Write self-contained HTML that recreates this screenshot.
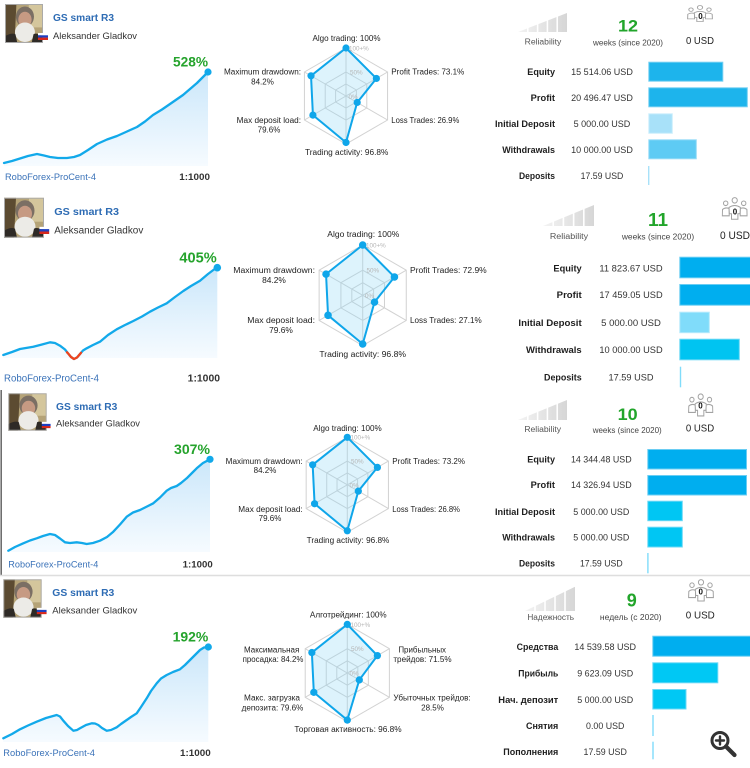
<!DOCTYPE html>
<html><head><meta charset="utf-8">
<style>
html,body{margin:0;padding:0;background:#fff;}
svg{display:block;}
text{font-family:"Liberation Sans","DejaVu Sans",sans-serif;}
.ttl{font-size:10px;font-weight:bold;fill:#2e6cb4}
.nm{font-size:9.4px;fill:#333}
.pct{font-size:14px;font-weight:bold;fill:#25a32c}
.ft{font-size:9.3px;fill:#3a72b8}
.lev{font-size:9.5px;font-weight:bold;fill:#333}
.rl{font-size:8px;fill:#222}
.gl{font-size:6.3px;fill:#b5b5b5}
.rel{font-size:8px;fill:#555}
.wk{font-size:17px;font-weight:bold;fill:#22a52b}
.wks{font-size:8px;fill:#444}
.usd{font-size:10.5px;fill:#222}
.zero{font-size:8px;font-weight:bold;fill:#111}
.lb{font-size:9px;font-weight:bold;fill:#1e1e1e}
.vl{font-size:9px;fill:#333}
.grid{fill:none;stroke:#d2d2d2;stroke-width:1}
.poly{fill:#8fd6f5;fill-opacity:.3;stroke:#0fa6ea;stroke-width:2;stroke-linejoin:round}
.curve{fill:none;stroke:#12a9ea;stroke-width:2.3;stroke-linejoin:round;stroke-linecap:round}
</style></head>
<body>
<svg width="750" height="768" viewBox="0 0 750 768" xmlns="http://www.w3.org/2000/svg">
<defs>
  <symbol id="av" viewBox="0 0 40 40" preserveAspectRatio="none">
    <rect width="40" height="40" fill="#b5a377"/>
    <rect x="25" y="0" width="15" height="24" fill="#d4c69c"/>
    <path d="M0 0 H12 L10 40 H0Z" fill="#5c4b31"/>
    <ellipse cx="21" cy="13" rx="9.5" ry="10.5" fill="#7b6f64"/>
    <ellipse cx="21" cy="16" rx="7" ry="8" fill="#c69a83"/>
    <ellipse cx="21" cy="29" rx="10.5" ry="10" fill="#ecebe7"/>
    <path d="M0 33 Q7 29 11 31 L13 40 H0Z" fill="#2e2a26"/>
    <path d="M40 33 Q33 29 30 31 L28 40 H40Z" fill="#2e2a26"/>
    <rect x="0.5" y="0.5" width="39" height="39" fill="none" stroke="#a9a9a9" stroke-width="1"/>
  </symbol>
  <symbol id="flag" viewBox="0 0 10 7" preserveAspectRatio="none">
    <rect width="10" height="2.4" fill="#ffffff"/>
    <rect y="2.3" width="10" height="2.4" fill="#1d3fc0"/>
    <rect y="4.6" width="10" height="2.4" fill="#d8281c"/>
  </symbol>
  <linearGradient id="relg" x1="0" y1="0" x2="1" y2="0">
    <stop offset="0" stop-color="#f3f3f3"/><stop offset="1" stop-color="#d6d6d6"/>
  </linearGradient>
  <symbol id="rel" viewBox="0 0 50 20" preserveAspectRatio="none">
    <polygon points="0,20 50,0 50,20" fill="url(#relg)"/>
    <g stroke="#fff" stroke-width="1.6">
      <line x1="10" y1="0" x2="10" y2="20"/><line x1="20" y1="0" x2="20" y2="20"/>
      <line x1="30" y1="0" x2="30" y2="20"/><line x1="40" y1="0" x2="40" y2="20"/>
    </g>
  </symbol>
  <symbol id="ppl" viewBox="0 0 26 22" preserveAspectRatio="none">
    <g fill="#fff" stroke="#a3a3a3" stroke-width="1">
      <circle cx="4" cy="6" r="2.2"/><circle cx="22" cy="6" r="2.2"/>
      <path d="M0.6 18 L0.8 12 Q3.5 9.5 7.5 11 L7.5 18Z"/>
      <path d="M25.4 18 L25.2 12 Q22.5 9.5 18.5 11 L18.5 18Z"/>
      <circle cx="13" cy="3.2" r="2.6"/>
      <path d="M7.3 10 Q13 6.3 18.7 10 L18.3 16 L16.2 16 L16.2 21.3 L9.8 21.3 L9.8 16 L7.7 16Z"/>
    </g>
  </symbol>
  <linearGradient id="fillg" x1="0" y1="0" x2="0" y2="1">
    <stop offset="0" stop-color="#cbe7fa"/><stop offset="1" stop-color="#f6fbff"/>
  </linearGradient>
  <g id="hexgrid">
    <polygon class="grid" vector-effect="non-scaling-stroke" points="0,-100 86.6,-50 86.6,50 0,100 -86.6,50 -86.6,-50"/>
    <polygon class="grid" vector-effect="non-scaling-stroke" points="0,-50 43.3,-25 43.3,25 0,50 -43.3,25 -43.3,-25"/>
    <polygon class="grid" vector-effect="non-scaling-stroke" points="0,-25 21.65,-12.5 21.65,12.5 0,25 -21.65,12.5 -21.65,-12.5"/>
    <g class="grid" vector-effect="non-scaling-stroke">
      <line vector-effect="non-scaling-stroke" x1="0" y1="-100" x2="0" y2="100"/>
      <line vector-effect="non-scaling-stroke" x1="86.6" y1="-50" x2="-86.6" y2="50"/>
      <line vector-effect="non-scaling-stroke" x1="86.6" y1="50" x2="-86.6" y2="-50"/>
    </g>
  </g>
</defs>

<!-- ============ PANEL 1 ============ -->
<use href="#av" x="5" y="4" width="38" height="39"/>
<use href="#flag" x="38" y="33" width="10" height="7"/>
<text class="ttl" x="53" y="21" textLength="61" lengthAdjust="spacingAndGlyphs">GS smart R3</text>
<text class="nm" x="53" y="39" textLength="84" lengthAdjust="spacingAndGlyphs">Aleksander Gladkov</text>
<polygon fill="url(#fillg)" points="4,163 12,161 20,158.5 28,156 37,154 44,155.5 50,157 58,158 67,158 74,157 80,155 88,150 97,144 107,139.5 117,136 127,131.5 137,127 145,121.5 153,115 162,109.5 170,104 183,95 190,89 197,83 203,77 208,72 208,166 4,166"/>
<polyline class="curve" points="4,163 12,161 20,158.5 28,156 37,154 44,155.5 50,157 58,158 67,158 74,157 80,155 88,150 97,144 107,139.5 117,136 127,131.5 137,127 145,121.5 153,115 162,109.5 170,104 183,95 190,89 197,83 203,77 208,72"/>
<circle cx="208" cy="72" r="3.6" fill="#12a9ea"/>
<text class="pct" x="208" y="66.7" text-anchor="end" textLength="35" lengthAdjust="spacingAndGlyphs">528%</text>
<text class="ft" x="5" y="180" textLength="91" lengthAdjust="spacingAndGlyphs">RoboForex-ProCent-4</text>
<text class="lev" x="210" y="180" text-anchor="end" textLength="30.7" lengthAdjust="spacingAndGlyphs">1:1000</text>

<g transform="translate(346,96) scale(0.48)">
  <use href="#hexgrid"/>
  <polygon class="poly" vector-effect="non-scaling-stroke" points="0,-100 63.3,-36.55 23.3,13.45 0,96.8 -68.9,39.8 -72.9,-42.1"/>
  <g fill="#0fa6ea"><circle cx="0" cy="-100" r="7.5"/><circle cx="63.3" cy="-36.55" r="7.5"/><circle cx="23.3" cy="13.45" r="7.5"/><circle cx="0" cy="96.8" r="7.5"/><circle cx="-68.9" cy="39.8" r="7.5"/><circle cx="-72.9" cy="-42.1" r="7.5"/></g>
</g>
<text class="gl" x="349" y="50.5">100+%</text>
<text class="gl" x="350" y="74.3">50%</text>
<text class="gl" x="348.5" y="98.8">0%</text>
<text class="rl" x="346.5" y="41" text-anchor="middle" textLength="68" lengthAdjust="spacingAndGlyphs">Algo trading: 100%</text>
<text class="rl" x="391.3" y="74.5" textLength="73" lengthAdjust="spacingAndGlyphs">Profit Trades: 73.1%</text>
<text class="rl" x="391.3" y="123" textLength="68" lengthAdjust="spacingAndGlyphs">Loss Trades: 26.9%</text>
<text class="rl" x="346.7" y="155" text-anchor="middle" textLength="83.3" lengthAdjust="spacingAndGlyphs">Trading activity: 96.8%</text>
<text class="rl" x="301" y="74.5" text-anchor="end" textLength="77" lengthAdjust="spacingAndGlyphs">Maximum drawdown:</text>
<text class="rl" x="262.5" y="84.5" text-anchor="middle">84.2%</text>
<text class="rl" x="301" y="123" text-anchor="end" textLength="64.3" lengthAdjust="spacingAndGlyphs">Max deposit load:</text>
<text class="rl" x="269" y="132.5" text-anchor="middle">79.6%</text>

<use href="#rel" x="518" y="13" width="49" height="19"/>
<text class="rel" x="543" y="44.5" text-anchor="middle" textLength="36.7" lengthAdjust="spacingAndGlyphs">Reliability</text>
<text class="wk" x="628" y="31.7" text-anchor="middle" textLength="20" lengthAdjust="spacingAndGlyphs">12</text>
<text class="wks" x="628" y="45.5" text-anchor="middle" textLength="70" lengthAdjust="spacingAndGlyphs">weeks (since 2020)</text>
<use href="#ppl" x="687" y="5" width="26" height="17"/>
<text class="zero" x="700.5" y="19" text-anchor="middle">0</text>
<text class="usd" x="700" y="44" text-anchor="middle" textLength="28" lengthAdjust="spacingAndGlyphs">0 USD</text>

<text class="lb" x="555" y="74.9" text-anchor="end" textLength="27.7" lengthAdjust="spacingAndGlyphs">Equity</text>
<text class="lb" x="555" y="100.9" text-anchor="end" textLength="24.3" lengthAdjust="spacingAndGlyphs">Profit</text>
<text class="lb" x="555" y="127.2" text-anchor="end" textLength="60" lengthAdjust="spacingAndGlyphs">Initial Deposit</text>
<text class="lb" x="555" y="153.2" text-anchor="end" textLength="52.7" lengthAdjust="spacingAndGlyphs">Withdrawals</text>
<text class="lb" x="555" y="178.9" text-anchor="end" textLength="36" lengthAdjust="spacingAndGlyphs">Deposits</text>
<text class="vl" x="602" y="74.9" text-anchor="middle" textLength="61.7" lengthAdjust="spacingAndGlyphs">15 514.06 USD</text>
<text class="vl" x="602" y="100.9" text-anchor="middle" textLength="61.7" lengthAdjust="spacingAndGlyphs">20 496.47 USD</text>
<text class="vl" x="602" y="127.2" text-anchor="middle" textLength="56.7" lengthAdjust="spacingAndGlyphs">5 000.00 USD</text>
<text class="vl" x="602" y="153.2" text-anchor="middle" textLength="61.7" lengthAdjust="spacingAndGlyphs">10 000.00 USD</text>
<text class="vl" x="602" y="178.9" text-anchor="middle" textLength="42.7" lengthAdjust="spacingAndGlyphs">17.59 USD</text>
<rect x="648.8" y="62.2" width="74" height="19" fill="#1db4ec" stroke="#74cff2" stroke-width="1"/>
<rect x="648.8" y="87.8" width="98.5" height="19" fill="#1db4ec" stroke="#74cff2" stroke-width="1"/>
<rect x="648.8" y="113.8" width="23.5" height="19.5" fill="#a8e1f9" stroke="#cdeefc" stroke-width="1"/>
<rect x="648.8" y="139.8" width="47.5" height="19" fill="#5ecbf4" stroke="#98dcf7" stroke-width="1"/>
<rect x="648" y="166" width="1.4" height="19" fill="#a8e1f9"/>

<!-- ============ PANEL 2 ============ -->
<use href="#av" x="4" y="197.7" width="40" height="40"/>
<use href="#flag" x="39.3" y="226.7" width="10" height="7.3"/>
<text class="ttl" x="54.3" y="215" textLength="64.7" lengthAdjust="spacingAndGlyphs" style="font-size:10.5px">GS smart R3</text>
<text class="nm" x="54.3" y="233.3" textLength="89" lengthAdjust="spacingAndGlyphs" style="font-size:10px">Aleksander Gladkov</text>
<polygon fill="url(#fillg)" points="3.3,355 12,352 20,349 33.3,346.7 42,344.5 50,342.3 55,343 60,345.7 65,349.5 68,353.3 71,357 74,358 77,357 80,354 83,350.5 86.7,348.3 93,345 100,341.7 108,335 116.7,329.3 125,325 133.3,321 142,316.5 150,311.7 158,307.5 166.7,303.3 175,297 183.3,291 191,286 200,280.7 208,274 214,269.5 217.3,267.7 217.3,358 3.3,358"/>
<polyline class="curve" points="3.3,355 12,352 20,349 33.3,346.7 42,344.5 50,342.3 55,343 60,345.7 65,349.5 68,353.3 71,357 74,359 77,357.5 80,354 83,350.5 86.7,348.3 93,345 100,341.7 108,335 116.7,329.3 125,325 133.3,321 142,316.5 150,311.7 158,307.5 166.7,303.3 175,297 183.3,291 191,286 200,280.7 208,274 214,269.5 217.3,267.7"/>
<polyline fill="none" stroke="#f0431c" stroke-width="2.3" stroke-linejoin="round" stroke-linecap="round" points="67,352.3 68,353.3 71,357 74,359 77,357.5 80,354 81,352.8"/>
<circle cx="217.3" cy="267.7" r="3.8" fill="#12a9ea"/>
<text class="pct" x="216.7" y="262.3" text-anchor="end" textLength="37.3" lengthAdjust="spacingAndGlyphs" style="font-size:15px">405%</text>
<text class="ft" x="4" y="381.7" textLength="95" lengthAdjust="spacingAndGlyphs" style="font-size:9.8px">RoboForex-ProCent-4</text>
<text class="lev" x="220" y="381.7" text-anchor="end" textLength="32.3" lengthAdjust="spacingAndGlyphs" style="font-size:10px">1:1000</text>

<g transform="translate(362.7,295.3) scale(0.503)">
  <use href="#hexgrid"/>
  <polygon class="poly" vector-effect="non-scaling-stroke" points="0,-100 63.1,-36.45 23.5,13.55 0,96.8 -68.9,39.8 -72.9,-42.1"/>
  <g fill="#0fa6ea"><circle cx="0" cy="-100" r="7.5"/><circle cx="63.1" cy="-36.45" r="7.5"/><circle cx="23.5" cy="13.55" r="7.5"/><circle cx="0" cy="96.8" r="7.5"/><circle cx="-68.9" cy="39.8" r="7.5"/><circle cx="-72.9" cy="-42.1" r="7.5"/></g>
</g>
<text class="gl" x="366" y="247.5">100+%</text>
<text class="gl" x="366.5" y="272.5">50%</text>
<text class="gl" x="365" y="297.8">0%</text>
<text class="rl" x="363.3" y="237" text-anchor="middle" textLength="72" lengthAdjust="spacingAndGlyphs">Algo trading: 100%</text>
<text class="rl" x="410" y="273" textLength="76.7" lengthAdjust="spacingAndGlyphs">Profit Trades: 72.9%</text>
<text class="rl" x="410" y="323" textLength="71.7" lengthAdjust="spacingAndGlyphs">Loss Trades: 27.1%</text>
<text class="rl" x="362.7" y="357" text-anchor="middle" textLength="86.7" lengthAdjust="spacingAndGlyphs">Trading activity: 96.8%</text>
<text class="rl" x="315" y="273" text-anchor="end" textLength="81.7" lengthAdjust="spacingAndGlyphs">Maximum drawdown:</text>
<text class="rl" x="274" y="283" text-anchor="middle" style="font-size:8.4px">84.2%</text>
<text class="rl" x="315" y="323" text-anchor="end" textLength="67.7" lengthAdjust="spacingAndGlyphs">Max deposit load:</text>
<text class="rl" x="281" y="333" text-anchor="middle" style="font-size:8.4px">79.6%</text>

<use href="#rel" x="543" y="205" width="51" height="21"/>
<text class="rel" x="569" y="239" text-anchor="middle" textLength="38.3" lengthAdjust="spacingAndGlyphs">Reliability</text>
<text class="wk" x="658" y="226" text-anchor="middle" textLength="20" lengthAdjust="spacingAndGlyphs" style="font-size:18px">11</text>
<text class="wks" x="658" y="239.5" text-anchor="middle" textLength="72.3" lengthAdjust="spacingAndGlyphs">weeks (since 2020)</text>
<use href="#ppl" x="721.7" y="197" width="26" height="23"/>
<text class="zero" x="735" y="214.5" text-anchor="middle">0</text>
<text class="usd" x="720" y="239" textLength="30" lengthAdjust="spacingAndGlyphs" style="font-size:11px">0 USD</text>

<text class="lb" x="581.7" y="271.5" text-anchor="end" textLength="28.3" lengthAdjust="spacingAndGlyphs">Equity</text>
<text class="lb" x="581.7" y="298.2" text-anchor="end" textLength="25" lengthAdjust="spacingAndGlyphs">Profit</text>
<text class="lb" x="581.7" y="325.9" text-anchor="end" textLength="63.3" lengthAdjust="spacingAndGlyphs">Initial Deposit</text>
<text class="lb" x="581.7" y="353.2" text-anchor="end" textLength="55.7" lengthAdjust="spacingAndGlyphs">Withdrawals</text>
<text class="lb" x="581.7" y="380.5" text-anchor="end" textLength="37.7" lengthAdjust="spacingAndGlyphs">Deposits</text>
<text class="vl" x="631" y="271.5" text-anchor="middle" textLength="63.3" lengthAdjust="spacingAndGlyphs">11 823.67 USD</text>
<text class="vl" x="631" y="298.2" text-anchor="middle" textLength="63.3" lengthAdjust="spacingAndGlyphs">17 459.05 USD</text>
<text class="vl" x="631" y="325.9" text-anchor="middle" textLength="59.7" lengthAdjust="spacingAndGlyphs">5 000.00 USD</text>
<text class="vl" x="631" y="353.2" text-anchor="middle" textLength="63.3" lengthAdjust="spacingAndGlyphs">10 000.00 USD</text>
<text class="vl" x="631" y="380.5" text-anchor="middle" textLength="45" lengthAdjust="spacingAndGlyphs">17.59 USD</text>
<rect x="679.8" y="257.2" width="72" height="20.6" fill="#00aeef" stroke="#6acdf3" stroke-width="1"/>
<rect x="679.8" y="284.5" width="72" height="20.7" fill="#00aeef" stroke="#6acdf3" stroke-width="1"/>
<rect x="679.8" y="312.2" width="29.5" height="20.5" fill="#80dcfa" stroke="#b5eafc" stroke-width="1"/>
<rect x="679.8" y="339.2" width="59.5" height="20.6" fill="#00c4f1" stroke="#6ad8f6" stroke-width="1"/>
<rect x="679.8" y="366.7" width="1.4" height="20.6" fill="#80dcfa"/>

<!-- ============ PANEL 3 ============ -->
<line x1="1.2" y1="390" x2="1.2" y2="575" stroke="#666" stroke-width="1.5"/>
<line x1="0" y1="575.5" x2="750" y2="575.5" stroke="#dedede" stroke-width="1.5"/>
<use href="#av" x="8.3" y="393.3" width="38.4" height="37.4"/>
<use href="#flag" x="41.7" y="421.7" width="9" height="6.6"/>
<text class="ttl" x="56" y="410" textLength="61.3" lengthAdjust="spacingAndGlyphs">GS smart R3</text>
<text class="nm" x="56" y="426.7" textLength="84" lengthAdjust="spacingAndGlyphs">Aleksander Gladkov</text>
<polygon fill="url(#fillg)" points="8.3,550.7 15,547 23.3,543.3 30,540.5 36.7,538.3 43,536 50,534 55,535 60,538.5 65,542.3 70,543 76.7,542.3 82,543 86.7,544 93,543 100,540.7 107,537 113.3,531.7 120,524.5 126.7,516.7 133,512.5 140,510 147,506.5 153.3,503.3 160,497.5 166.7,490.7 171,488 176.7,486 181,483 186.7,478.3 192,473 196.7,468.3 203,463 210,459.3 210,552 8.3,552"/>
<polyline class="curve" points="8.3,550.7 15,547 23.3,543.3 30,540.5 36.7,538.3 43,536 50,534 55,535 60,538.5 65,542.3 70,543 76.7,542.3 82,543 86.7,544 93,543 100,540.7 107,537 113.3,531.7 120,524.5 126.7,516.7 133,512.5 140,510 147,506.5 153.3,503.3 160,497.5 166.7,490.7 171,488 176.7,486 181,483 186.7,478.3 192,473 196.7,468.3 203,463 210,459.3"/>
<circle cx="210" cy="459.3" r="3.6" fill="#12a9ea"/>
<text class="pct" x="210" y="454" text-anchor="end" textLength="36" lengthAdjust="spacingAndGlyphs">307%</text>
<text class="ft" x="8.3" y="567.3" textLength="90" lengthAdjust="spacingAndGlyphs">RoboForex-ProCent-4</text>
<text class="lev" x="212.7" y="567.3" text-anchor="end" textLength="30" lengthAdjust="spacingAndGlyphs">1:1000</text>

<g transform="translate(347.3,484.8) scale(0.475)">
  <use href="#hexgrid"/>
  <polygon class="poly" vector-effect="non-scaling-stroke" points="0,-100 63.4,-36.6 23.2,13.4 0,96.8 -68.9,39.8 -72.9,-42.1"/>
  <g fill="#0fa6ea"><circle cx="0" cy="-100" r="7.6"/><circle cx="63.4" cy="-36.6" r="7.6"/><circle cx="23.2" cy="13.4" r="7.6"/><circle cx="0" cy="96.8" r="7.6"/><circle cx="-68.9" cy="39.8" r="7.6"/><circle cx="-72.9" cy="-42.1" r="7.6"/></g>
</g>
<text class="gl" x="350.5" y="439.5">100+%</text>
<text class="gl" x="351" y="463.3">50%</text>
<text class="gl" x="349.5" y="487.3">0%</text>
<text class="rl" x="347.5" y="431" text-anchor="middle" textLength="68.4" lengthAdjust="spacingAndGlyphs">Algo trading: 100%</text>
<text class="rl" x="392.3" y="464" textLength="72.7" lengthAdjust="spacingAndGlyphs">Profit Trades: 73.2%</text>
<text class="rl" x="392.3" y="512" textLength="67.7" lengthAdjust="spacingAndGlyphs">Loss Trades: 26.8%</text>
<text class="rl" x="348" y="543" text-anchor="middle" textLength="82.7" lengthAdjust="spacingAndGlyphs">Trading activity: 96.8%</text>
<text class="rl" x="302.7" y="464" text-anchor="end" textLength="77" lengthAdjust="spacingAndGlyphs">Maximum drawdown:</text>
<text class="rl" x="265" y="473" text-anchor="middle">84.2%</text>
<text class="rl" x="302.7" y="512" text-anchor="end" textLength="64.4" lengthAdjust="spacingAndGlyphs">Max deposit load:</text>
<text class="rl" x="270" y="521" text-anchor="middle">79.6%</text>

<use href="#rel" x="518" y="400" width="49" height="20"/>
<text class="rel" x="542.7" y="432" text-anchor="middle" textLength="36.7" lengthAdjust="spacingAndGlyphs">Reliability</text>
<text class="wk" x="627.7" y="420" text-anchor="middle" textLength="20" lengthAdjust="spacingAndGlyphs">10</text>
<text class="wks" x="627.2" y="433" text-anchor="middle" textLength="69" lengthAdjust="spacingAndGlyphs">weeks (since 2020)</text>
<use href="#ppl" x="688" y="393.3" width="25.4" height="23.4"/>
<text class="zero" x="700.5" y="408.5" text-anchor="middle">0</text>
<text class="usd" x="700" y="431.7" text-anchor="middle" textLength="28.3" lengthAdjust="spacingAndGlyphs">0 USD</text>

<text class="lb" x="555" y="462.5" text-anchor="end" textLength="27.7" lengthAdjust="spacingAndGlyphs">Equity</text>
<text class="lb" x="555" y="488.2" text-anchor="end" textLength="24.3" lengthAdjust="spacingAndGlyphs">Profit</text>
<text class="lb" x="555" y="514.9" text-anchor="end" textLength="60" lengthAdjust="spacingAndGlyphs">Initial Deposit</text>
<text class="lb" x="555" y="540.5" text-anchor="end" textLength="52.7" lengthAdjust="spacingAndGlyphs">Withdrawals</text>
<text class="lb" x="555" y="566.5" text-anchor="end" textLength="36" lengthAdjust="spacingAndGlyphs">Deposits</text>
<text class="vl" x="601.3" y="462.5" text-anchor="middle" textLength="60.7" lengthAdjust="spacingAndGlyphs">14 344.48 USD</text>
<text class="vl" x="601.3" y="488.2" text-anchor="middle" textLength="60.7" lengthAdjust="spacingAndGlyphs">14 326.94 USD</text>
<text class="vl" x="601.3" y="514.9" text-anchor="middle" textLength="56" lengthAdjust="spacingAndGlyphs">5 000.00 USD</text>
<text class="vl" x="601.3" y="540.5" text-anchor="middle" textLength="56" lengthAdjust="spacingAndGlyphs">5 000.00 USD</text>
<text class="vl" x="601.3" y="566.5" text-anchor="middle" textLength="42.7" lengthAdjust="spacingAndGlyphs">17.59 USD</text>
<rect x="647.8" y="449.5" width="98.7" height="19.5" fill="#00aeef" stroke="#6acdf3" stroke-width="1"/>
<rect x="647.8" y="475.5" width="98.7" height="19.5" fill="#00aeef" stroke="#6acdf3" stroke-width="1"/>
<rect x="647.8" y="501.2" width="34.5" height="19.5" fill="#00c6f3" stroke="#6ad8f6" stroke-width="1"/>
<rect x="647.8" y="527.2" width="34.5" height="19.8" fill="#00c6f3" stroke="#6ad8f6" stroke-width="1"/>
<rect x="647.2" y="553" width="1.4" height="20.3" fill="#80dcfa"/>

<!-- ============ PANEL 4 ============ -->
<use href="#av" x="3.3" y="579.3" width="38.4" height="38.4"/>
<use href="#flag" x="36.7" y="607.7" width="10" height="6.6"/>
<text class="ttl" x="52.3" y="596" textLength="62" lengthAdjust="spacingAndGlyphs">GS smart R3</text>
<text class="nm" x="52.3" y="613.3" textLength="85" lengthAdjust="spacingAndGlyphs">Aleksander Gladkov</text>
<polygon fill="url(#fillg)" points="3.3,738.3 12,734 20,729.3 28,725.5 36.7,721.7 46,718 56.7,715 60,716.5 63.3,720.7 68,726 73.3,730.7 77,730 80,728.3 86,725 91.7,723.3 95,723.5 98.3,725 102,728 106.7,730.7 111,730 116.7,727.3 121,724 126.7,720 131,717 136.7,713.3 141,707 146.7,698.3 151,691 156.7,683.3 161,678.5 166.7,675 173,672 180,669.3 185,665 190,660 195,655 200,650 204,647.5 208.3,647 208.3,742 3.3,742"/>
<polyline class="curve" points="3.3,738.3 12,734 20,729.3 28,725.5 36.7,721.7 46,718 56.7,715 60,716.5 63.3,720.7 68,726 73.3,730.7 77,730 80,728.3 86,725 91.7,723.3 95,723.5 98.3,725 102,728 106.7,730.7 111,730 116.7,727.3 121,724 126.7,720 131,717 136.7,713.3 141,707 146.7,698.3 151,691 156.7,683.3 161,678.5 166.7,675 173,672 180,669.3 185,665 190,660 195,655 200,650 204,647.5 208.3,647"/>
<circle cx="208.3" cy="647" r="3.6" fill="#12a9ea"/>
<text class="pct" x="208.3" y="641.7" text-anchor="end" textLength="35.7" lengthAdjust="spacingAndGlyphs">192%</text>
<text class="ft" x="3.3" y="756" textLength="91.7" lengthAdjust="spacingAndGlyphs">RoboForex-ProCent-4</text>
<text class="lev" x="210.7" y="756" text-anchor="end" textLength="30.7" lengthAdjust="spacingAndGlyphs">1:1000</text>

<g transform="translate(347.3,673) scale(0.486)">
  <use href="#hexgrid"/>
  <polygon class="poly" vector-effect="non-scaling-stroke" points="0,-100 61.9,-35.75 24.7,14.25 0,96.8 -68.9,39.8 -72.9,-42.1"/>
  <g fill="#0fa6ea"><circle cx="0" cy="-100" r="7.5"/><circle cx="61.9" cy="-35.75" r="7.5"/><circle cx="24.7" cy="14.25" r="7.5"/><circle cx="0" cy="96.8" r="7.5"/><circle cx="-68.9" cy="39.8" r="7.5"/><circle cx="-72.9" cy="-42.1" r="7.5"/></g>
</g>
<text class="gl" x="350.5" y="626.8">100+%</text>
<text class="gl" x="351" y="651">50%</text>
<text class="gl" x="349.5" y="675.5">0%</text>
<text class="rl" x="348.3" y="617.3" text-anchor="middle" textLength="76.7" lengthAdjust="spacingAndGlyphs">Алготрейдинг: 100%</text>
<text class="rl" x="422.2" y="652.3" text-anchor="middle" textLength="47.7" lengthAdjust="spacingAndGlyphs">Прибыльных</text>
<text class="rl" x="422.5" y="662" text-anchor="middle" textLength="58.3" lengthAdjust="spacingAndGlyphs">трейдов: 71.5%</text>
<text class="rl" x="432" y="700.3" text-anchor="middle" textLength="77.3" lengthAdjust="spacingAndGlyphs">Убыточных трейдов:</text>
<text class="rl" x="432.5" y="710.3" text-anchor="middle">28.5%</text>
<text class="rl" x="348" y="732" text-anchor="middle" textLength="107.3" lengthAdjust="spacingAndGlyphs">Торговая активность: 96.8%</text>
<text class="rl" x="271.7" y="652.3" text-anchor="middle" textLength="55.3" lengthAdjust="spacingAndGlyphs">Максимальная</text>
<text class="rl" x="273" y="662" text-anchor="middle" textLength="60.7" lengthAdjust="spacingAndGlyphs">просадка: 84.2%</text>
<text class="rl" x="272" y="700.3" text-anchor="middle" textLength="56" lengthAdjust="spacingAndGlyphs">Макс. загрузка</text>
<text class="rl" x="272.5" y="710.3" text-anchor="middle" textLength="61.7" lengthAdjust="spacingAndGlyphs">депозита: 79.6%</text>

<use href="#rel" x="525" y="586.7" width="50" height="24.3"/>
<text class="rel" x="550.7" y="620" text-anchor="middle" textLength="46.7" lengthAdjust="spacingAndGlyphs">Надежность</text>
<text class="wk" x="631.7" y="606.7" text-anchor="middle" style="font-size:18px">9</text>
<text class="wks" x="630.8" y="620" text-anchor="middle" textLength="61.7" lengthAdjust="spacingAndGlyphs">недель (с 2020)</text>
<use href="#ppl" x="688" y="579" width="26" height="22.7"/>
<text class="zero" x="700.7" y="594.5" text-anchor="middle">0</text>
<text class="usd" x="700.3" y="618.3" text-anchor="middle" textLength="29" lengthAdjust="spacingAndGlyphs">0 USD</text>

<text class="lb" x="558.3" y="649.9" text-anchor="end" textLength="41.7" lengthAdjust="spacingAndGlyphs">Средства</text>
<text class="lb" x="558.3" y="676.5" text-anchor="end" textLength="40" lengthAdjust="spacingAndGlyphs">Прибыль</text>
<text class="lb" x="558.3" y="703.2" text-anchor="end" textLength="60" lengthAdjust="spacingAndGlyphs">Нач. депозит</text>
<text class="lb" x="558.3" y="729.2" text-anchor="end" textLength="32.3" lengthAdjust="spacingAndGlyphs">Снятия</text>
<text class="lb" x="558.3" y="754.9" text-anchor="end" textLength="55" lengthAdjust="spacingAndGlyphs">Пополнения</text>
<text class="vl" x="605.2" y="649.9" text-anchor="middle" textLength="61.7" lengthAdjust="spacingAndGlyphs">14 539.58 USD</text>
<text class="vl" x="605.2" y="676.5" text-anchor="middle" textLength="56" lengthAdjust="spacingAndGlyphs">9 623.09 USD</text>
<text class="vl" x="605.2" y="703.2" text-anchor="middle" textLength="56" lengthAdjust="spacingAndGlyphs">5 000.00 USD</text>
<text class="vl" x="605.2" y="729.2" text-anchor="middle" textLength="38.3" lengthAdjust="spacingAndGlyphs">0.00 USD</text>
<text class="vl" x="605.2" y="754.9" text-anchor="middle" textLength="43.3" lengthAdjust="spacingAndGlyphs">17.59 USD</text>
<rect x="652.8" y="636.2" width="99" height="20" fill="#00aeef" stroke="#6acdf3" stroke-width="1"/>
<rect x="652.8" y="662.8" width="65" height="20" fill="#00c8f4" stroke="#6ad8f6" stroke-width="1"/>
<rect x="652.8" y="689.5" width="33.2" height="19.5" fill="#00c8f4" stroke="#6ad8f6" stroke-width="1"/>
<rect x="652.3" y="715" width="1.4" height="21" fill="#80dcfa"/>
<rect x="652.3" y="741.7" width="1.4" height="17.6" fill="#80dcfa"/>

<!-- magnifier -->
<g stroke="#333" fill="none" stroke-linecap="round">
  <circle cx="720" cy="740.5" r="8" stroke-width="3"/>
  <line x1="726" y1="746.5" x2="734.5" y2="755" stroke-width="4.2"/>
  <line x1="716" y1="740.5" x2="724" y2="740.5" stroke-width="2.4"/>
  <line x1="720" y1="736.5" x2="720" y2="744.5" stroke-width="2.4"/>
</g>
</svg>
</body></html>
